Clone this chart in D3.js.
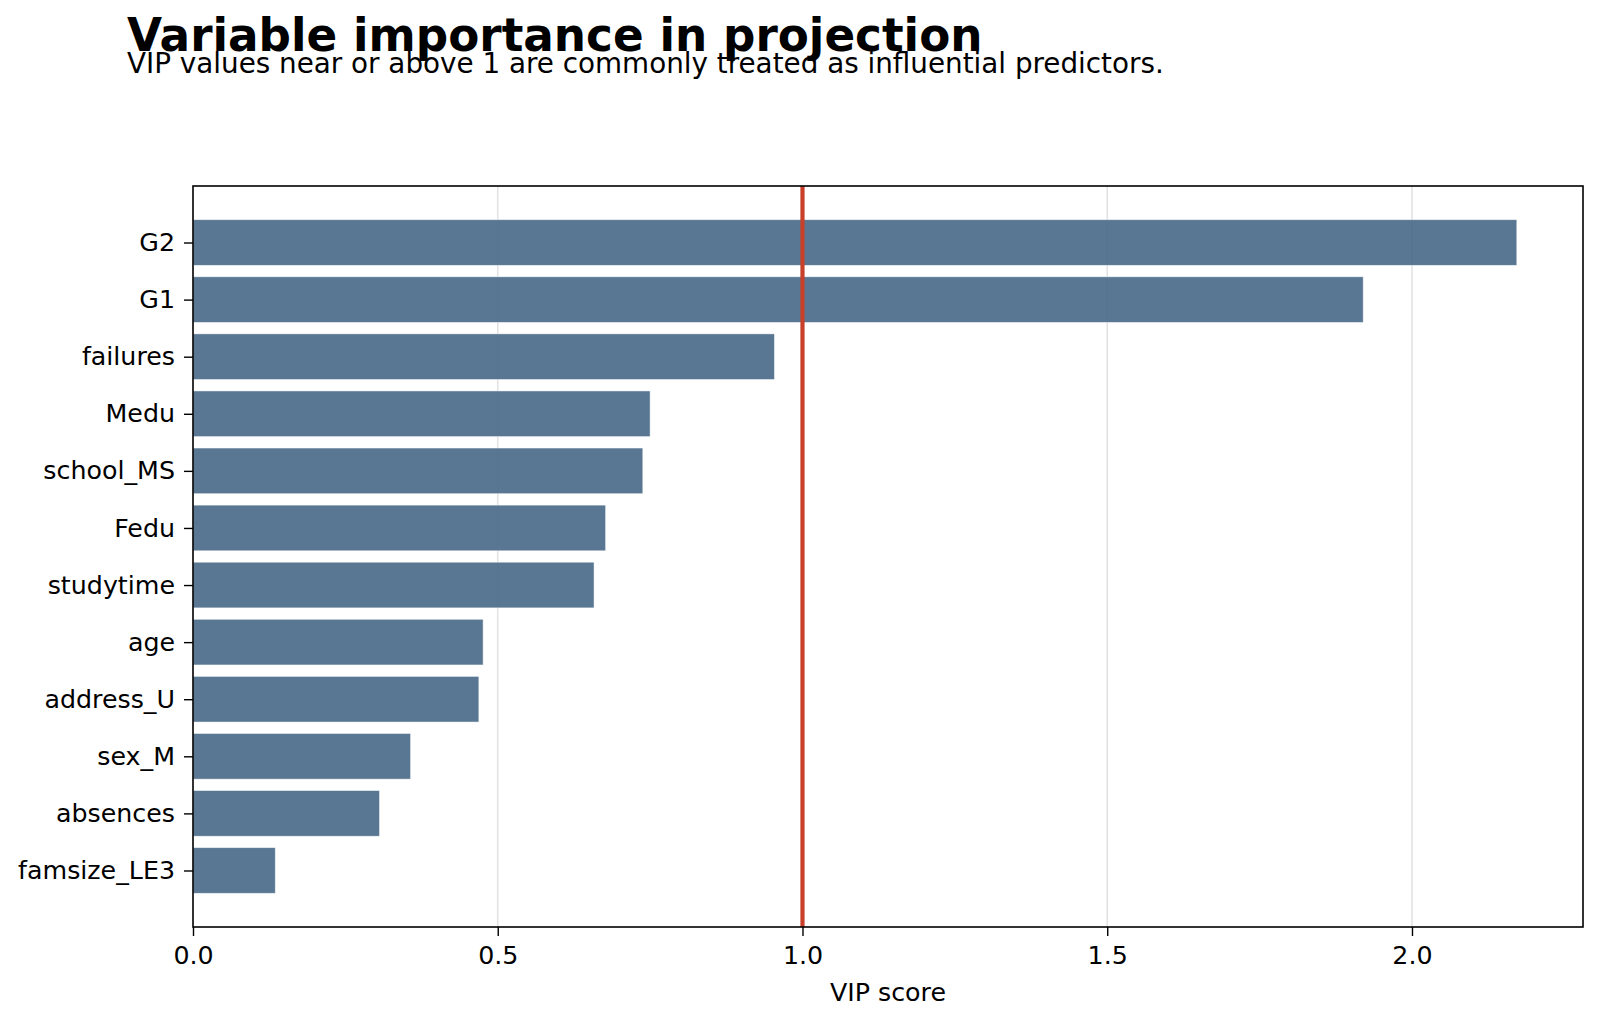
<!DOCTYPE html>
<html>
<head>
<meta charset="utf-8">
<script src="https://cdn.jsdelivr.net/npm/d3@7"></script>
<style>
  body { margin: 0; background: #fff; }
  svg { font-family: "DejaVu Sans", sans-serif; }
</style>
</head>
<body>
<div id="chart"></div>
<script>
// VIP scores, top to bottom
const variables = ["G2", "G1", "failures", "Medu", "school_MS", "Fedu", "studytime", "age", "address_U", "sex_M", "absences", "famsize_LE3"];
const vipScores = [2.172, 1.920, 0.954, 0.750, 0.738, 0.677, 0.658, 0.476, 0.469, 0.357, 0.306, 0.135];
const xTicks = [0.0, 0.5, 1.0, 1.5, 2.0];
const threshold = 1;

const width = 1600;
const height = 1024;
const margin = { top: 186, right: 17, bottom: 97, left: 193 };

const svg = d3.select("#chart")
    .append("svg")
    .attr("width", width)
    .attr("height", height);

const plotW = width - margin.left - margin.right;
const plotH = height - margin.top - margin.bottom;

// matplotlib-style 5% padding on the x max
const xMax = d3.max(vipScores) * 1.05;
const xScale = d3.scaleLinear()
    .domain([0, xMax])
    .range([margin.left, margin.left + plotW]);

// bars of height 0.8 on integer positions, with 5% margins
const n = variables.length;
const yLo = -0.4, yHi = n - 1 + 0.4;
const pad = (yHi - yLo) * 0.05;
const yScale = d3.scaleLinear()
    .domain([yLo - pad, yHi + pad])
    .range([margin.top, margin.top + plotH]);
const bandH = yScale(0.4) - yScale(-0.4);

// grid
svg.append("g")
    .selectAll("line")
    .data(xTicks.filter(d => d > 0))
    .enter()
    .append("line")
    .attr("x1", d => xScale(d))
    .attr("x2", d => xScale(d))
    .attr("y1", margin.top)
    .attr("y2", margin.top + plotH)
    .attr("stroke", "#e3e3e3")
    .attr("stroke-width", 1.6);

// bars
svg.append("g")
    .selectAll("rect")
    .data(vipScores)
    .enter()
    .append("rect")
    .attr("x", xScale(0))
    .attr("y", (d, i) => yScale(i) - bandH / 2)
    .attr("width", d => xScale(d) - xScale(0))
    .attr("height", bandH)
    .attr("fill", "#476886")
    .attr("fill-opacity", 0.9)
    .attr("stroke", "#ffffff")
    .attr("stroke-opacity", 0.6)
    .attr("stroke-width", 0.8);

// threshold line
svg.append("line")
    .attr("x1", xScale(threshold))
    .attr("x2", xScale(threshold))
    .attr("y1", margin.top)
    .attr("y2", margin.top + plotH)
    .attr("stroke", "#c8402a")
    .attr("stroke-width", 4.2);

// frame
svg.append("rect")
    .attr("x", margin.left)
    .attr("y", margin.top)
    .attr("width", plotW)
    .attr("height", plotH)
    .attr("fill", "none")
    .attr("stroke", "#000")
    .attr("stroke-width", 1.6);

// axes
const xAxis = d3.axisBottom(xScale)
    .tickValues(xTicks)
    .tickFormat(d3.format(".1f"))
    .tickSize(9)
    .tickPadding(10);

const yAxis = d3.axisLeft(yScale)
    .tickValues(d3.range(n))
    .tickFormat(i => variables[i])
    .tickSize(9)
    .tickPadding(9);

const gx = svg.append("g")
    .attr("transform", `translate(0, ${margin.top + plotH})`)
    .call(xAxis);

const gy = svg.append("g")
    .attr("transform", `translate(${margin.left}, 0)`)
    .call(yAxis);

[gx, gy].forEach(g => {
    g.select(".domain").remove();
    g.selectAll(".tick line").attr("stroke", "#000").attr("stroke-width", 1.4);
    g.selectAll(".tick text")
        .attr("fill", "#000")
        .style("font-size", "25.3px")
        .style("font-family", "DejaVu Sans");
});

// axis label
svg.append("text")
    .attr("x", margin.left + plotW / 2)
    .attr("y", 1001)
    .attr("text-anchor", "middle")
    .style("font-size", "25.3px")
    .text("VIP score");

// titles
svg.append("text")
    .attr("x", 127)
    .attr("y", 51)
    .style("font-size", "45.3px")
    .style("font-weight", "bold")
    .text("Variable importance in projection");

svg.append("text")
    .attr("x", 127)
    .attr("y", 72.5)
    .style("font-size", "27.8px")
    .text("VIP values near or above 1 are commonly treated as influential predictors.");
</script>
</body>
</html>
